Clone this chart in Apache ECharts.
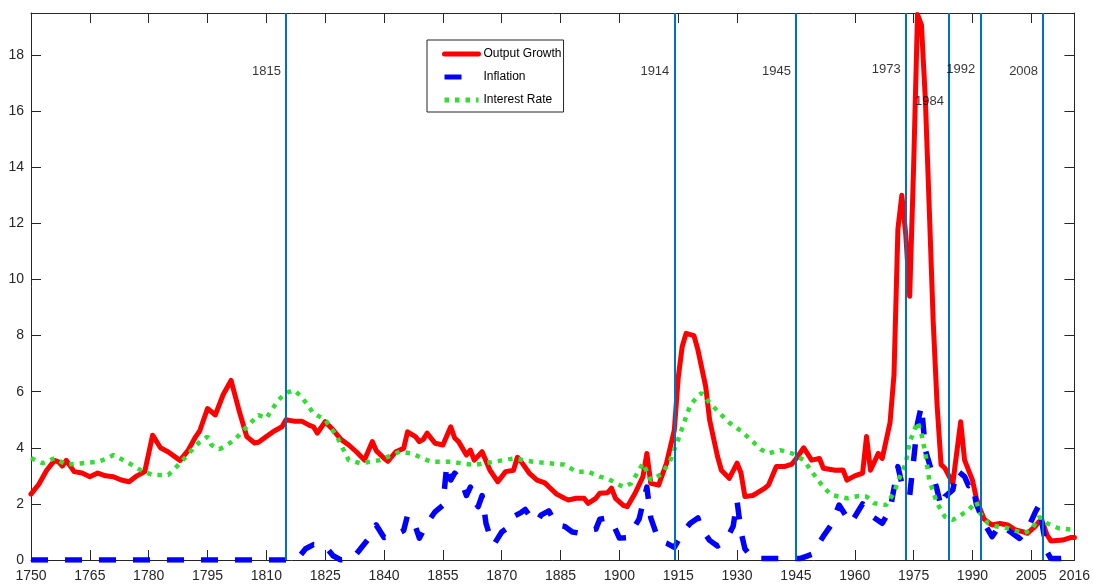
<!DOCTYPE html>
<html>
<head>
<meta charset="utf-8">
<script src="https://cdn.jsdelivr.net/npm/echarts@6/dist/echarts.min.js"></script>
<style>
  html, body { margin: 0; padding: 0; background: #ffffff; }
  #chart { width: 1093px; height: 588px; }
</style>
</head>
<body>
<div id="chart"></div>
<script>
// Output growth (%), by year
const outputYears = [1750,1752,1754,1756,1757,1758,1759,1761,1763,1765,1767,1769,1771,1773,1775,1777,1779,1781,1783,1785,1787,1788,1790,1792,1793,1795,1797,1799,1800,1801,1803,1805,1807,1808,1810,1812,1814,1815,1817,1819,1821,1822,1823,1825,1827,1829,1831,1833,1835,1837,1838,1840,1841,1843,1845,1846,1848,1849,1850,1851,1853,1855,1857,1858,1859,1861,1862,1863,1865,1867,1869,1871,1873,1874,1875,1877,1879,1881,1882,1884,1886,1887,1889,1891,1892,1894,1895,1897,1898,1899,1901,1902,1904,1906,1907,1908,1910,1912,1914,1915,1916,1917,1919,1920,1922,1923,1925,1926,1928,1930,1931,1932,1934,1935,1937,1938,1940,1942,1944,1945,1947,1949,1951,1952,1955,1957,1958,1960,1962,1963,1964,1966,1967,1969,1970,1971,1972,1973,1974,1975,1976,1977,1978,1979,1980,1981,1982,1983,1984,1985,1987,1988,1990,1991,1992,1993,1995,1997,1999,2001,2003,2004,2006,2007,2008,2009,2010,2013,2015,2016];
const outputGrowth = [2.35,2.7,3.2,3.55,3.5,3.35,3.55,3.15,3.1,2.97,3.1,3.0,2.97,2.85,2.79,3.0,3.15,4.45,4.0,3.85,3.65,3.55,3.9,4.4,4.6,5.4,5.17,5.9,6.15,6.4,5.35,4.4,4.17,4.2,4.4,4.6,4.75,5.0,4.95,4.95,4.8,4.75,4.52,4.93,4.64,4.3,4.1,3.85,3.56,4.22,3.9,3.63,3.52,3.86,3.98,4.57,4.4,4.22,4.3,4.52,4.16,4.1,4.75,4.35,4.22,3.74,3.92,3.56,3.86,3.2,2.79,3.15,3.2,3.66,3.5,3.1,2.85,2.75,2.61,2.35,2.2,2.14,2.2,2.2,2.02,2.2,2.38,2.4,2.56,2.2,1.95,1.9,2.38,2.97,3.8,2.73,2.67,3.45,4.63,6.5,7.6,8.08,8.0,7.5,6.18,4.99,3.7,3.2,2.91,3.45,3.1,2.26,2.3,2.38,2.55,2.67,3.33,3.33,3.42,3.6,4.0,3.56,3.62,3.27,3.2,3.21,2.85,3.0,3.1,4.4,3.2,3.8,3.62,4.9,6.6,11.8,13.0,11.6,9.4,14.0,19.45,19.07,16.4,12.5,8.5,5.5,3.4,3.27,3.0,2.73,4.93,3.56,2.85,2.2,1.8,1.45,1.25,1.3,1.25,1.07,1.0,0.95,1.2,1.37,1.3,0.9,0.68,0.71,0.8,0.8];

// Inflation (%), by year
const inflationYears = [1750,1816,1818,1820,1822,1825,1827,1829,1832,1834,1836,1838,1840,1842,1845,1846,1848,1849,1851,1853,1855,1856,1857,1858,1859,1860,1861,1862,1863,1864,1865,1866,1867,1868,1870,1871,1873,1875,1876,1877,1879,1880,1882,1884,1886,1888,1890,1892,1894,1895,1897,1898,1900,1902,1903,1905,1907,1908,1910,1912,1914,1916,1918,1920,1921,1923,1925,1927,1929,1930,1931,1932,1934,1946,1948,1949,1952,1954,1956,1959,1962,1964,1967,1969,1971,1972,1974,1975,1976,1977,1978,1979,1981,1982,1983,1985,1986,1988,1989,1990,1991,1993,1995,1997,1999,2002,2004,2006,2007,2008,2009,2010,2012,2014,2016];
const inflation = [0,0,0.05,0.4,0.55,0.5,0.15,0,0.05,0.4,0.75,1.25,0.8,0.85,1.05,1.6,1.2,0.78,1.31,1.72,1.95,3.4,2.85,3.1,2.95,2.7,2.3,2.6,2.1,1.9,2.3,1.3,0.85,0.55,1.0,1.1,1.55,1.7,1.8,1.6,1.35,1.6,1.75,1.25,1.2,1.0,0.95,1.05,1.1,1.45,1.5,1.4,0.78,0.8,1.0,1.45,2.6,1.5,0.7,0.6,0.45,0.95,1.3,1.5,1.1,0.7,0.5,0.65,1.2,2.1,1.0,0.4,0.05,0.05,0.15,0.2,0.85,1.25,1.96,1.31,2.0,1.6,1.31,1.78,3.33,2.73,2.3,3.56,4.87,5.5,3.92,3.45,2.5,1.9,2.26,2.5,3.2,2.97,2.65,2.73,2.0,1.31,0.83,1.25,1.07,0.77,1.07,1.7,1.96,1.1,0.3,0.05,0.05,0.07,0.24];

// Interest rate (%), by year
const rateYears = [1750,1753,1756,1759,1763,1767,1769,1771,1773,1775,1778,1781,1785,1788,1791,1793,1795,1796,1798,1800,1802,1805,1808,1810,1813,1815,1817,1819,1822,1825,1828,1831,1834,1839,1844,1847,1852,1857,1863,1868,1873,1878,1882,1886,1889,1892,1895,1897,1899,1901,1903,1905,1906,1908,1910,1911,1913,1915,1917,1918,1920,1921,1923,1926,1928,1931,1934,1936,1938,1941,1944,1947,1950,1952,1954,1958,1961,1963,1965,1968,1970,1971,1973,1974,1976,1977,1978,1979,1981,1983,1985,1987,1989,1991,1992,1994,1996,1999,2003,2005,2007,2009,2012,2016];
const interestRate = [3.63,3.45,3.63,3.4,3.45,3.5,3.6,3.74,3.6,3.45,3.2,3.03,3.03,3.45,3.92,4.2,4.4,4.1,3.95,4.1,4.3,4.75,5.17,5.05,5.7,5.95,6.06,5.82,5.23,5.0,4.4,3.56,3.45,3.56,3.86,3.8,3.5,3.5,3.39,3.5,3.62,3.5,3.45,3.4,3.15,3.15,2.97,2.9,2.75,2.6,2.73,3.2,3.45,2.85,3.0,3.1,3.56,4.3,5.1,5.5,5.85,5.95,5.6,5.17,4.9,4.6,4.22,3.95,3.8,3.92,3.8,3.56,2.97,2.6,2.32,2.2,2.28,2.26,2.02,1.96,2.4,2.8,3.45,4.2,4.93,4.5,3.8,2.85,2.02,1.54,1.43,1.6,1.78,2.08,1.66,1.31,1.2,1.13,0.95,1.07,1.54,1.31,1.13,1.07];

// Marked years and the heights of their captions
const eventYears = [1815, 1914, 1945, 1973, 1984, 1992, 2008];
const eventCaptionLevels = [17.4, 17.4, 17.4, 17.5, 16.35, 17.5, 17.4];

// Axis ticks
const xTicks = [1750, 1765, 1780, 1795, 1810, 1825, 1840, 1855, 1870, 1885, 1900, 1915, 1930, 1945, 1960, 1975, 1990, 2005, 2016];
const yTicks = [0, 2, 4, 6, 8, 10, 12, 14, 16, 18];

const FONT = "'Liberation Sans', Arial, Helvetica, sans-serif";
const AXIS_COLOR = '#262626';

const pairs = (xs, ys) => xs.map((x, i) => [x, ys[i]]);

const chart = echarts.init(document.getElementById('chart'), null, { renderer: 'canvas' });

const baseX = {
  type: 'value', min: 1750, max: 2016,
  splitLine: { show: false },
  axisLine: { show: true, onZero: false, lineStyle: { color: AXIS_COLOR, width: 1 } },
  axisTick: { show: true, inside: true, length: 10, customValues: xTicks, lineStyle: { color: AXIS_COLOR } }
};
const baseY = {
  type: 'value', min: 0, max: 19.5,
  splitLine: { show: false },
  axisLine: { show: true, onZero: false, lineStyle: { color: AXIS_COLOR, width: 1 } },
  axisTick: { show: true, inside: true, length: 10, customValues: yTicks, lineStyle: { color: AXIS_COLOR } }
};

chart.setOption({
  animation: false,
  backgroundColor: '#ffffff',
  grid: { left: 31, right: 18, top: 13, bottom: 28, containLabel: false },
  legend: {
    data: ['Output Growth', 'Inflation', 'Interest Rate'],
    orient: 'vertical',
    left: 427, top: 40,
    itemWidth: 34, itemHeight: 14, itemGap: 11,
    padding: [8, 2, 6, 15],
    borderColor: AXIS_COLOR, borderWidth: 1, backgroundColor: '#ffffff',
    itemStyle: { opacity: 0 },
    lineStyle: { width: 5 },
    textStyle: { fontSize: 12, fontFamily: FONT, color: '#000000' }
  },
  xAxis: [
    Object.assign({}, baseX, {
      position: 'bottom',
      axisLabel: { customValues: xTicks, formatter: v => String(v), color: AXIS_COLOR, fontSize: 14, fontFamily: FONT, margin: 9 }
    }),
    Object.assign({}, baseX, { position: 'top', axisLabel: { show: false } })
  ],
  yAxis: [
    Object.assign({}, baseY, {
      position: 'left',
      axisLabel: { customValues: yTicks, formatter: v => String(v), color: AXIS_COLOR, fontSize: 14, fontFamily: FONT, margin: 7 }
    }),
    Object.assign({}, baseY, { position: 'right', axisLabel: { show: false } })
  ],
  series: [
    {
      name: 'Output Growth', type: 'line', symbol: 'none', z: 2,
      data: pairs(outputYears, outputGrowth),
      lineStyle: { color: '#ff0000', width: 5, join: 'round', cap: 'round' },
      itemStyle: { color: '#ff0000' }
    },
    {
      name: 'Inflation', type: 'line', symbol: 'none', z: 3,
      data: pairs(inflationYears, inflation),
      lineStyle: { color: '#0000ff', width: 5.5, type: [17, 17], cap: 'butt', join: 'round' },
      itemStyle: { color: '#0000ff' }
    },
    {
      name: 'Interest Rate', type: 'line', symbol: 'none', z: 4,
      data: pairs(rateYears, interestRate),
      lineStyle: { color: '#33dd33', width: 4.5, type: [4.5, 6], cap: 'butt' },
      itemStyle: { color: '#33dd33' }
    },
    {
      name: 'events', type: 'scatter', symbolSize: 0, z: 6, silent: true,
      data: pairs(eventYears, eventCaptionLevels),
      label: {
        show: true, position: 'left', distance: 5,
        formatter: p => String(p.value[0]),
        color: '#000000', fontSize: 13, fontFamily: FONT
      },
      markLine: {
        silent: true, symbol: ['none', 'none'], z: 5,
        label: { show: false },
        lineStyle: { color: '#0072bd', width: 2, type: 'solid' },
        data: eventYears.map(y => ({ xAxis: y }))
      }
    }
  ]
});
</script>
</body>
</html>
